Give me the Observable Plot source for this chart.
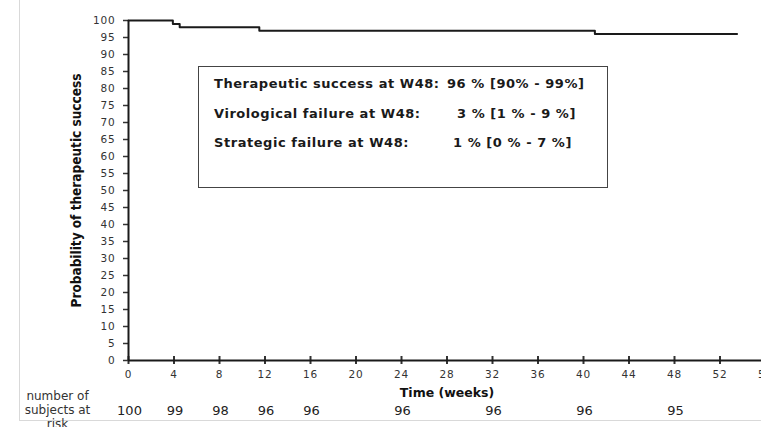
<!DOCTYPE html>
<html>
<head>
<meta charset="utf-8">
<script src="https://cdn.jsdelivr.net/npm/d3@7"></script>
<script src="https://cdn.jsdelivr.net/npm/@observablehq/plot@0.6"></script>
<style>
  html, body { margin: 0; padding: 0; background: #fff; overflow: hidden; }
  #wrap { position: relative; width: 761px; height: 427px; overflow: hidden; background: #fff; }
  g[aria-label="y-axis tick label"] text, g[aria-label="x-axis tick label"] text { letter-spacing: 0.8px; }
  #box { position: absolute; left: 198px; top: 66px; width: 410px; height: 122px; box-sizing: border-box;
         border: 1.5px solid #444; font-family: "DejaVu Sans", sans-serif; font-weight: bold; font-size: 13px;
         letter-spacing: 0.55px; color: #1a1a1a; }
  #box .line { position: absolute; left: 15px; height: 16px; line-height: 16px; white-space: pre; }
  #box .val { position: absolute; top: 0; white-space: pre; }
</style>
</head>
<body>
<div id="wrap"></div>
<script>
// Kaplan-Meier curve (weeks, probability %)
const weeks = [0, 3.9, 4.5, 11.5, 41, 53.5];
const survival = [100, 99, 98, 97, 96, 96];

// Axis ticks
const xTicks = [0, 4, 8, 12, 16, 20, 24, 28, 32, 36, 40, 44, 48, 52, 56];
const yTicks = [0, 5, 10, 15, 20, 25, 30, 35, 40, 45, 50, 55, 60, 65, 70, 75, 80, 85, 90, 95, 100];

// Number at risk
const riskWeeks = [0, 4, 8, 12, 16, 24, 32, 40, 48];
const riskCounts = [100, 99, 98, 96, 96, 96, 96, 96, 95];

// Annotation box
const boxLabels = ["Therapeutic success at W48:", "Virological failure at W48:", "Strategic failure at W48:"];
const boxValues = ["96 % [90% - 99%]", "3 % [1 % - 9 %]", "1 % [0 % - 7 %]"];

// layout (styles only)
const boxLineTops = [9, 39, 68];
const boxValueLefts = [233, 243, 239];

const km = weeks.map((w, i) => ({week: w, p: survival[i]}));
const risk = riskWeeks.map((w, i) => ({week: w, n: riskCounts[i]}));

const ink = "#1a1a1a";
const svg = Plot.plot({
  width: 761,
  height: 427,
  marginLeft: 128,
  marginTop: 20,
  marginBottom: 67,
  marginRight: -4,
  x: {domain: [0, 56]},
  y: {domain: [0, 100]},
  style: {fontFamily: "DejaVu Sans, sans-serif", background: "transparent", overflow: "hidden", maxWidth: "none"},
  marks: [
    Plot.axisY(yTicks, {anchor: "left", tickSize: 6, dx: 1, tickPadding: 8, label: null, fontSize: 10.5, color: "#333", strokeWidth: 1.5}),
    Plot.axisX(xTicks, {anchor: "bottom", tickSize: 8, dy: -4, tickPadding: 6, label: null, fontSize: 10.5, color: "#333", strokeWidth: 2}),
    Plot.ruleX([0], {stroke: ink, strokeWidth: 2}),
    Plot.ruleY([0], {stroke: ink, strokeWidth: 2}),
    Plot.line(km, {x: "week", y: "p", curve: "step-after", stroke: ink, strokeWidth: 2}),
    Plot.text(["Probability of therapeutic success"], {frameAnchor: "left", textAnchor: "middle", lineAnchor: "middle", rotate: -90, dx: -52,
      fontWeight: "bold", fontSize: 13.5, fontFamily: "Liberation Sans Narrow, DejaVu Sans Condensed, sans-serif", fill: "#111"}),
    Plot.text(["Time (weeks)"], {frameAnchor: "bottom", lineAnchor: "middle", dy: 32, fontWeight: "bold", fontSize: 12.5, fill: "#111"}),
    Plot.text(risk, {x: "week", text: "n", frameAnchor: "bottom", lineAnchor: "middle", dy: 50, dx: 1, fontSize: 13, fill: "#222"}),
    Plot.text(["number of\nsubjects at\nrisk"], {frameAnchor: "bottom-left", textAnchor: "middle", lineAnchor: "middle", dx: -71, dy: 49, lineHeight: 1.17, fontSize: 12, fill: "#333"})
  ]
});

// light chart-area border (left and bottom visible)
d3.select(svg).insert("rect", ":first-child")
  .attr("x", 19.5).attr("y", -10).attr("width", 800).attr("height", 430.5)
  .attr("fill", "none").attr("stroke", "#d9d9d9").attr("stroke-width", 1);

const wrap = document.getElementById("wrap");
wrap.appendChild(svg);

const box = document.createElement("div");
box.id = "box";
boxLabels.forEach((lab, i) => {
  const line = document.createElement("div");
  line.className = "line";
  line.style.top = boxLineTops[i] + "px";
  line.textContent = lab;
  const v = document.createElement("span");
  v.className = "val";
  v.style.left = (boxValueLefts[i]) + "px";
  v.textContent = boxValues[i];
  line.appendChild(v);
  box.appendChild(line);
});
wrap.appendChild(box);
</script>
</body>
</html>
